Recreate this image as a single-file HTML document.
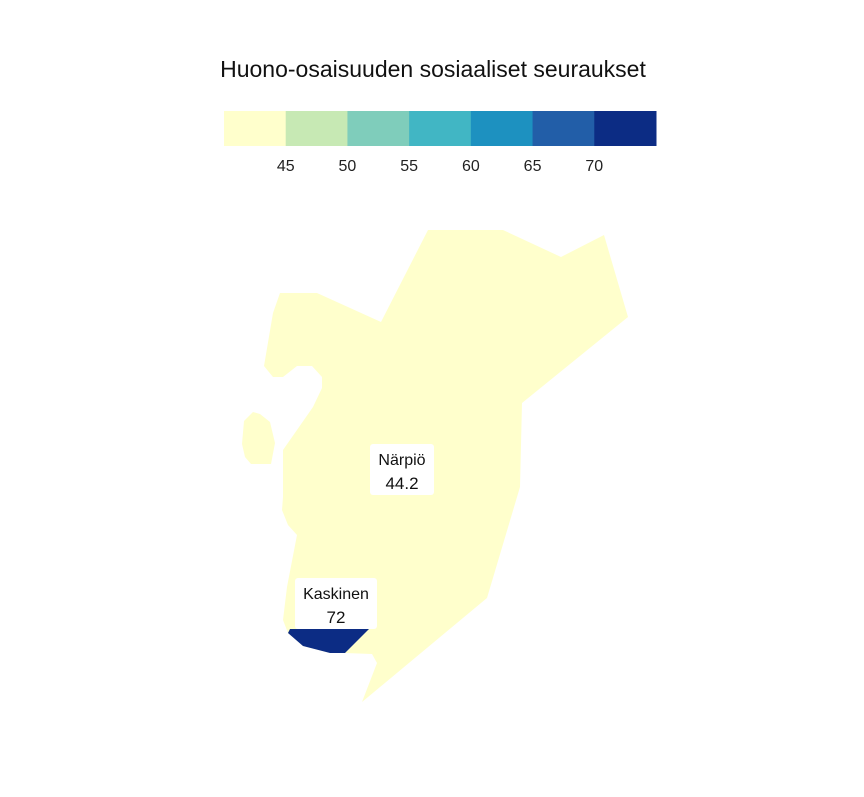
<!DOCTYPE html>
<html><head><meta charset="utf-8"><style>
body{margin:0;background:#fff;font-family:"Liberation Sans",sans-serif}
svg text{font-family:"Liberation Sans",sans-serif}
</style></head><body>
<svg width="864" height="792" viewBox="0 0 864 792">
<text x="433" y="77" text-anchor="middle" font-size="23" fill="#111">Huono-osaisuuden sosiaaliset seuraukset</text>
<g id="legend"></g>
<g id="map"></g>
<g id="labels"></g>
</svg>
<script>
const binBreaks=[45,50,55,60,65,70];
const binColors=["#ffffcc","#c7e9b4","#7fcdbb","#41b6c4","#1d91c0","#225ea8","#0c2c84"];
const regionNames=["Närpiö","Kaskinen"];
const regionValues=[44.2,72];
const NS="http://www.w3.org/2000/svg";
function mk(t,a,p){const e=document.createElementNS(NS,t);for(const k in a)e.setAttribute(k,a[k]);p.appendChild(e);return e;}
function colorFor(v){let i=0;while(i<binBreaks.length&&v>=binBreaks[i])i++;return binColors[i];}
const lg=document.getElementById('legend');
const lx0=224,lw=432/binColors.length;
binColors.forEach((c,i)=>{const r=mk('rect',{x:lx0+i*lw,y:111,width:lw+0.5,height:35,fill:c},lg);

});
binBreaks.forEach((b,i)=>{const t=mk('text',{x:lx0+(i+1)*lw,y:171,'text-anchor':'middle','font-size':16,fill:'#222'},lg);t.textContent=b;

});
const shapes=[
"M428,230 L503,230 L561,257 L604,235 L628,317 L522,403 L520,487 L487,598 L362,702 L377,663 L372,654 L345,653 L330,653 L303,646 L288,633 L283,620 L287,587 L297,535 L288,525 L282,510 L283,497 L283,450 L313,407 L322,388 L322,377 L312,366 L297,366 L283,377 L273,377 L264,366 L273,313 L280,293 L317,293 L381,322 Z M253,412 L260,414 L270,422 L275,443 L271,464 L251,464 L245,457 L242,444 L244,421 Z",
"M288,633 L290,629 L369,629 L345,653 L330,653 L303,646 Z"];
const m=document.getElementById('map');
shapes.forEach((d,i)=>{const p=mk('path',{d:d,fill:colorFor(regionValues[i])},m);

});
const boxes=[[370,444,64,51],[295,578,82,51]];
const lb=document.getElementById('labels');
regionNames.forEach((n,i)=>{const b=boxes[i];
const r=mk('rect',{x:b[0],y:b[1],width:b[2],height:b[3],rx:3,fill:'#fff'},lb);


const cx=b[0]+b[2]/2;
const t1=mk('text',{x:cx,y:b[1]+21,'text-anchor':'middle','font-size':16,fill:'#111'},lb);t1.textContent=n;


const t2=mk('text',{x:cx,y:b[1]+45,'text-anchor':'middle','font-size':17,fill:'#111'},lb);t2.textContent=regionValues[i];

});
</script>
</body></html>
